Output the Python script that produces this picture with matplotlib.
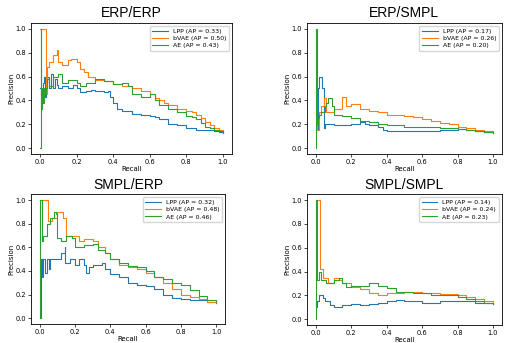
import matplotlib

matplotlib.use("Agg")
import matplotlib.pyplot as plt

titles = ["ERP/ERP", "ERP/SMPL", "SMPL/ERP", "SMPL/SMPL"]
model_names = ["LPP", "bVAE", "AE"]
ap_scores = [
    [0.33, 0.50, 0.43],
    [0.17, 0.26, 0.20],
    [0.32, 0.48, 0.46],
    [0.14, 0.24, 0.23],
]

# ERP/ERP
lpp_r_1 = [0.0, 0.005, 0.01, 0.015, 0.02, 0.025, 0.03, 0.04, 0.05, 0.06, 0.07, 0.08, 0.09, 0.1, 0.12, 0.15, 0.18, 0.2, 0.22, 0.25, 0.28, 0.3, 0.35, 0.37, 0.38, 0.4, 0.42, 0.45, 0.5, 0.55, 0.6, 0.63, 0.65, 0.7, 0.75, 0.8, 0.85, 0.9, 0.95, 0.98, 1.0]
lpp_p_1 = [0.5, 0.45, 0.5, 0.55, 0.6, 0.43, 0.55, 0.6, 0.5, 0.62, 0.5, 0.58, 0.53, 0.5, 0.52, 0.5, 0.53, 0.5, 0.47, 0.48, 0.49, 0.48, 0.47, 0.48, 0.43, 0.38, 0.33, 0.31, 0.29, 0.28, 0.27, 0.26, 0.24, 0.2, 0.19, 0.17, 0.155, 0.15, 0.14, 0.135, 0.13]
bvae_r_1 = [0.0, 0.03, 0.035, 0.05, 0.07, 0.09, 0.1, 0.12, 0.15, 0.17, 0.2, 0.22, 0.24, 0.26, 0.3, 0.35, 0.4, 0.45, 0.5, 0.55, 0.6, 0.63, 0.65, 0.68, 0.7, 0.75, 0.8, 0.83, 0.85, 0.88, 0.9, 0.93, 0.95, 0.98, 1.0]
bvae_p_1 = [1.0, 0.45, 0.68, 0.72, 0.78, 0.82, 0.72, 0.7, 0.74, 0.75, 0.72, 0.66, 0.64, 0.6, 0.57, 0.56, 0.54, 0.52, 0.5, 0.48, 0.45, 0.42, 0.4, 0.38, 0.36, 0.33, 0.31, 0.3, 0.28, 0.25, 0.22, 0.19, 0.17, 0.15, 0.13]
ae_r_1 = [0.0, 0.003, 0.006, 0.01, 0.015, 0.02, 0.025, 0.03, 0.04, 0.05, 0.07, 0.1, 0.12, 0.15, 0.2, 0.22, 0.25, 0.3, 0.35, 0.4, 0.45, 0.48, 0.5, 0.55, 0.6, 0.63, 0.65, 0.7, 0.75, 0.8, 0.83, 0.85, 0.88, 0.9, 0.93, 0.95, 0.98, 1.0]
ae_p_1 = [0.0, 1.0, 0.33, 0.5, 0.38, 0.5, 0.45, 0.5, 0.58, 0.52, 0.6, 0.62, 0.55, 0.57, 0.55, 0.52, 0.55, 0.58, 0.56, 0.54, 0.55, 0.52, 0.45, 0.43, 0.45, 0.4, 0.36, 0.33, 0.3, 0.27, 0.26, 0.24, 0.21, 0.18, 0.17, 0.15, 0.14, 0.13]

# ERP/SMPL
lpp_r_2 = [0.0, 0.01, 0.02, 0.035, 0.045, 0.05, 0.06, 0.1, 0.15, 0.2, 0.25, 0.28, 0.3, 0.35, 0.38, 0.4, 0.5, 0.6, 0.7, 0.8, 0.85, 0.9, 0.95, 1.0]
lpp_p_2 = [0.15, 0.5, 0.6, 0.5, 0.17, 0.2, 0.2, 0.19, 0.19, 0.2, 0.22, 0.2, 0.19, 0.18, 0.15, 0.14, 0.14, 0.14, 0.15, 0.16, 0.15, 0.14, 0.135, 0.13]
bvae_r_2 = [0.0, 0.005, 0.02, 0.03, 0.045, 0.06, 0.1, 0.15, 0.17, 0.2, 0.25, 0.3, 0.35, 0.4, 0.45, 0.5, 0.55, 0.6, 0.65, 0.7, 0.75, 0.8, 0.85, 0.9, 0.95, 1.0]
bvae_p_2 = [0.25, 0.15, 0.3, 0.35, 0.42, 0.3, 0.33, 0.43, 0.35, 0.37, 0.33, 0.31, 0.3, 0.28, 0.275, 0.27, 0.26, 0.24, 0.23, 0.21, 0.2, 0.18, 0.17, 0.15, 0.14, 0.13]
ae_r_2 = [0.0, 0.002, 0.005, 0.01, 0.02, 0.03, 0.05, 0.06, 0.07, 0.09, 0.1, 0.15, 0.2, 0.25, 0.3, 0.35, 0.4, 0.5, 0.6, 0.7, 0.8, 0.85, 0.9, 0.95, 1.0]
ae_p_2 = [0.0, 1.0, 0.2, 0.25, 0.28, 0.3, 0.35, 0.38, 0.42, 0.35, 0.28, 0.27, 0.25, 0.23, 0.22, 0.2, 0.19, 0.18, 0.18, 0.17, 0.16, 0.15, 0.14, 0.135, 0.13]

# SMPL/ERP
lpp_r_3 = [0.0, 0.005, 0.01, 0.02, 0.03, 0.04, 0.05, 0.06, 0.07, 0.1, 0.12, 0.14, 0.145, 0.17, 0.2, 0.22, 0.25, 0.26, 0.28, 0.3, 0.35, 0.37, 0.4, 0.45, 0.5, 0.55, 0.6, 0.65, 0.7, 0.75, 0.8, 0.85, 0.9, 0.95, 1.0]
lpp_p_3 = [0.0, 0.5, 0.35, 0.5, 0.38, 0.5, 0.42, 0.5, 0.5, 0.5, 0.55, 0.6, 0.47, 0.5, 0.45, 0.5, 0.45, 0.38, 0.43, 0.45, 0.47, 0.42, 0.37, 0.35, 0.3, 0.28, 0.27, 0.25, 0.2, 0.17, 0.16, 0.155, 0.15, 0.14, 0.13]
bvae_r_3 = [0.0, 0.045, 0.07, 0.1, 0.13, 0.15, 0.2, 0.22, 0.25, 0.3, 0.33, 0.37, 0.4, 0.45, 0.5, 0.55, 0.6, 0.65, 0.7, 0.75, 0.8, 0.85, 0.9, 0.95, 1.0]
bvae_p_3 = [1.0, 0.82, 0.85, 0.9, 0.85, 0.7, 0.7, 0.65, 0.67, 0.65, 0.6, 0.55, 0.5, 0.45, 0.43, 0.42, 0.38, 0.35, 0.3, 0.25, 0.2, 0.18, 0.16, 0.14, 0.13]
ae_r_3 = [0.0, 0.002, 0.01, 0.02, 0.04, 0.06, 0.08, 0.09, 0.1, 0.12, 0.15, 0.18, 0.2, 0.25, 0.3, 0.33, 0.37, 0.4, 0.45, 0.5, 0.55, 0.6, 0.65, 0.7, 0.75, 0.8, 0.85, 0.9, 0.95, 1.0]
ae_p_3 = [0.0, 1.0, 0.65, 0.7, 0.8, 0.85, 0.9, 0.88, 0.68, 0.65, 0.7, 0.68, 0.6, 0.62, 0.63, 0.58, 0.55, 0.5, 0.47, 0.44, 0.43, 0.4, 0.35, 0.33, 0.3, 0.28, 0.24, 0.19, 0.15, 0.13]

# SMPL/SMPL
lpp_r_4 = [0.0, 0.005, 0.02, 0.04, 0.05, 0.08, 0.1, 0.15, 0.2, 0.25, 0.3, 0.35, 0.4, 0.45, 0.5, 0.6, 0.7, 0.8, 0.9, 1.0]
lpp_p_4 = [0.1, 0.15, 0.2, 0.18, 0.15, 0.12, 0.1, 0.12, 0.13, 0.12, 0.13, 0.14, 0.15, 0.16, 0.15, 0.14, 0.15, 0.15, 0.14, 0.13]
bvae_r_4 = [0.0, 0.025, 0.04, 0.07, 0.1, 0.13, 0.15, 0.2, 0.25, 0.3, 0.35, 0.4, 0.5, 0.6, 0.7, 0.8, 0.85, 0.9, 0.95, 1.0]
bvae_p_4 = [1.0, 0.42, 0.35, 0.3, 0.35, 0.33, 0.3, 0.27, 0.25, 0.22, 0.2, 0.22, 0.23, 0.22, 0.21, 0.2, 0.19, 0.17, 0.15, 0.13]
ae_r_4 = [0.0, 0.002, 0.005, 0.02, 0.03, 0.06, 0.1, 0.13, 0.15, 0.17, 0.2, 0.25, 0.3, 0.35, 0.4, 0.45, 0.55, 0.65, 0.8, 0.85, 0.9, 0.95, 1.0]
ae_p_4 = [0.0, 1.0, 0.33, 0.4, 0.33, 0.3, 0.33, 0.35, 0.3, 0.27, 0.28, 0.28, 0.3, 0.28, 0.26, 0.23, 0.22, 0.2, 0.19, 0.17, 0.15, 0.14, 0.13]

panels = [
    [(lpp_r_1, lpp_p_1), (bvae_r_1, bvae_p_1), (ae_r_1, ae_p_1)],
    [(lpp_r_2, lpp_p_2), (bvae_r_2, bvae_p_2), (ae_r_2, ae_p_2)],
    [(lpp_r_3, lpp_p_3), (bvae_r_3, bvae_p_3), (ae_r_3, ae_p_3)],
    [(lpp_r_4, lpp_p_4), (bvae_r_4, bvae_p_4), (ae_r_4, ae_p_4)],
]

# axes boxes in figure fractions (left, bottom, width, height)
boxes = [
    (0.061, 0.551, 0.395, 0.382),
    (0.603, 0.551, 0.383, 0.382),
    (0.061, 0.055, 0.381, 0.379),
    (0.603, 0.052, 0.383, 0.382),
]

fig = plt.figure(figsize=(5.09, 3.43), dpi=100)
for title, curves, scores, box in zip(titles, panels, ap_scores, boxes):
    ax = fig.add_axes(box)
    for name, (r, p), ap in zip(model_names, curves, scores):
        ax.step(r, p, where="post", lw=0.8, label=f"{name} (AP = {ap:.2f})")
    ax.set_title(title, fontsize=10, pad=4, family="Liberation Sans")
    ax.set_xlabel("Recall", fontsize=5, labelpad=1)
    ax.set_ylabel("Precision", fontsize=5, labelpad=1)
    ax.set_xlim(-0.05, 1.05)
    ax.set_ylim(-0.05, 1.05)
    ax.set_xticks([0.0, 0.2, 0.4, 0.6, 0.8, 1.0])
    ax.set_yticks([0.0, 0.2, 0.4, 0.6, 0.8, 1.0])
    ax.tick_params(labelsize=4.8, length=2, width=0.5, pad=1.5)
    for s in ax.spines.values():
        s.set_linewidth(0.6)
    ax.legend(loc="upper right", fontsize=4.5, handlelength=2.5, borderpad=0.4, labelspacing=0.3)

fig.savefig("out.png", dpi=100)
